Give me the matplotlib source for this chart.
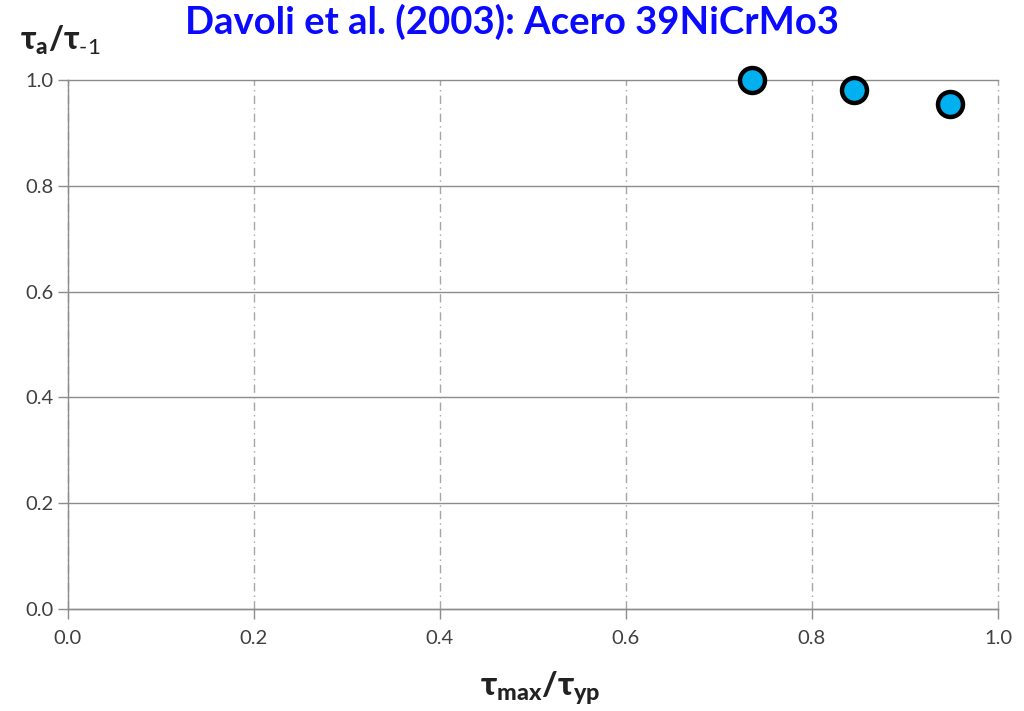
import matplotlib
matplotlib.use("Agg")
import matplotlib.pyplot as plt

# Normalised shear data, 39NiCrMo3 steel
tau_max_over_tau_yp = [0.735, 0.845, 0.948]
tau_a_over_tau_m1 = [1.000, 0.981, 0.955]

x_ticks = [0.0, 0.2, 0.4, 0.6, 0.8, 1.0]
y_ticks = [0.0, 0.2, 0.4, 0.6, 0.8, 1.0]

plt.rcParams['font.family'] = ['Lato', 'DejaVu Sans']
plt.rcParams['mathtext.fontset'] = 'custom'
plt.rcParams['mathtext.rm'] = 'Lato'
plt.rcParams['mathtext.it'] = 'Lato:italic'
plt.rcParams['mathtext.bf'] = 'Lato:black'

fig = plt.figure(figsize=(10.24, 7.11), dpi=100)
ax = fig.add_axes([68/1024, 1 - 609/711, 930/1024, 529/711])

ax.set_xlim(0, 1.0)
ax.set_ylim(0, 1.0)
ax.set_xticks(x_ticks)
ax.set_yticks(y_ticks)
ax.set_xticklabels([f"{v:.1f}" for v in x_ticks])
ax.set_yticklabels([f"{v:.1f}" for v in y_ticks])

ax.yaxis.grid(True, color='#8c8c8c', linewidth=1.0, linestyle='-')
ax.xaxis.grid(True, color='#a6a6a6', linewidth=1.0, linestyle=(0, (6, 3, 1, 3)))
for gl in ax.get_xgridlines() + ax.get_ygridlines():
    gl.set_clip_on(False)
ax.set_axisbelow(True)

for s in ['top', 'right']:
    ax.spines[s].set_visible(False)
for s in ['left', 'bottom']:
    ax.spines[s].set_color('#8c8c8c')
    ax.spines[s].set_linewidth(1.0)

ax.tick_params(axis='both', colors='#8c8c8c', labelcolor='#404040', labelsize=14.5, length=7, width=1.0)
ax.tick_params(axis='x', pad=8)

ax.plot(tau_max_over_tau_yp, tau_a_over_tau_m1, linestyle='none', marker='o',
        markersize=18, markerfacecolor='#00B0F0', markeredgecolor='black',
        markeredgewidth=3.2, clip_on=False, zorder=5)

fig.text(0.5, 1 - 22/711, 'Davoli et al. (2003): Acero 39NiCrMo3', ha='center', va='center',
         fontsize=27.5, fontweight='bold', color='#0a0aff')
fig.text(20/1024, 1 - 40/711, r'$\mathbf{\tau_{a}/\tau_{\text{-1}}}$', ha='left', va='center',
         fontsize=23, color='#222222')
fig.text(540/1024, 1 - 688/711, r'$\mathbf{\tau_{max}/\tau_{yp}}$', ha='center', va='center',
         fontsize=24, color='#222222')

fig.savefig('out.png', dpi=100)
